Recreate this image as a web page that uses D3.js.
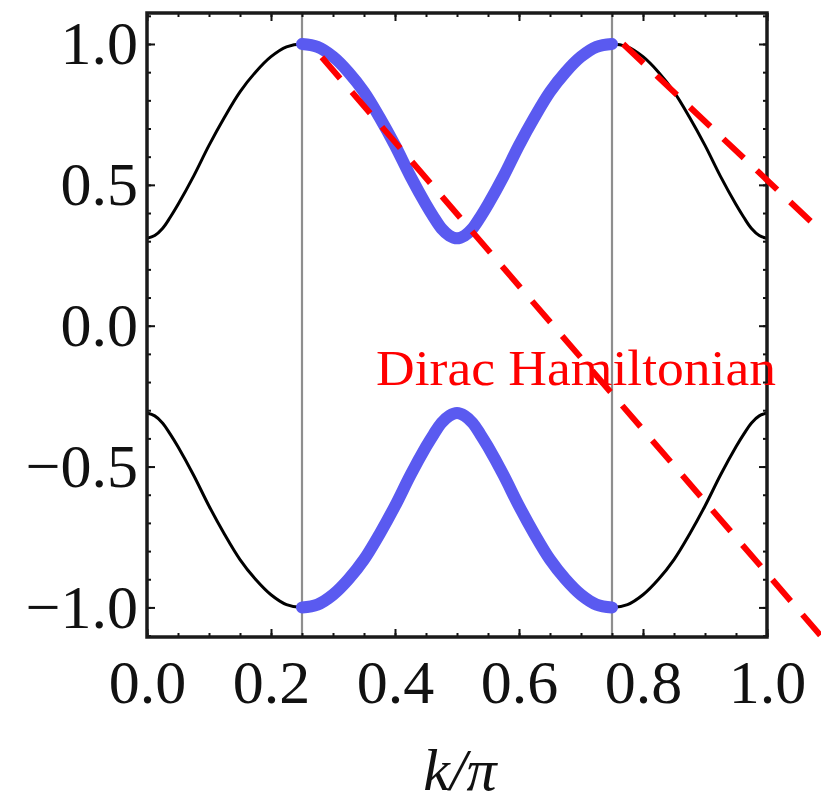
<!DOCTYPE html>
<html>
<head>
<meta charset="utf-8">
<script src="https://cdn.jsdelivr.net/npm/d3@7"></script>
<style>
  body { margin: 0; background: #fff; }
  svg { display: block; }
</style>
</head>
<body>
<svg id="chart" width="821" height="808"></svg>
<script>
// band values (k in units of pi)
const kVals = [0, 0.0125, 0.025, 0.0375, 0.05, 0.075, 0.1, 0.125, 0.15, 0.175, 0.2, 0.225,
  0.25,
  0.275, 0.3, 0.325, 0.35, 0.375, 0.4, 0.425, 0.45, 0.4625, 0.475, 0.4875,
  0.5,
  0.5125, 0.525, 0.5375, 0.55, 0.575, 0.6, 0.625, 0.65, 0.675, 0.7, 0.725,
  0.75,
  0.775, 0.8, 0.825, 0.85, 0.875, 0.9, 0.925, 0.95, 0.9625, 0.975, 0.9875,
  1.0];
const upperBand = [0.31, 0.32, 0.345, 0.385, 0.43, 0.53, 0.64, 0.74, 0.83, 0.90, 0.955, 0.99,
  1.0,
  0.99, 0.955, 0.90, 0.83, 0.74, 0.64, 0.53, 0.43, 0.385, 0.345, 0.32,
  0.31,
  0.32, 0.345, 0.385, 0.43, 0.53, 0.64, 0.74, 0.83, 0.90, 0.955, 0.99,
  1.0,
  0.99, 0.955, 0.90, 0.83, 0.74, 0.64, 0.53, 0.43, 0.385, 0.345, 0.32,
  0.31];
const lowerBand = [-0.31, -0.32, -0.345, -0.385, -0.43, -0.53, -0.64, -0.74, -0.83, -0.90, -0.955, -0.99,
  -1.0,
  -0.99, -0.955, -0.90, -0.83, -0.74, -0.64, -0.53, -0.43, -0.385, -0.345, -0.32,
  -0.31,
  -0.32, -0.345, -0.385, -0.43, -0.53, -0.64, -0.74, -0.83, -0.90, -0.955, -0.99,
  -1.0,
  -0.99, -0.955, -0.90, -0.83, -0.74, -0.64, -0.53, -0.43, -0.385, -0.345, -0.32,
  -0.31];

// highlighted window and boundary lines
const highlightRange = [0.25, 0.75];
const boundaryK = [0.25, 0.75];

// dashed Dirac lines: [k0, k1], [E0, E1]
const dirac1K = [0.282, 1.086], dirac1E = [0.953, -1.099];
const dirac2K = [0.768, 1.087], dirac2E = [1.0, 0.336];

const xTicks = [0, 0.2, 0.4, 0.6, 0.8, 1.0];
const yTicks = [-1.0, -0.5, 0.0, 0.5, 1.0];
const xMinor = d3.range(0, 1.0001, 0.05);
const yMinor = d3.range(-1.1, 1.1001, 0.1);

const annotation = "Dirac Hamiltonian";
const xTitle = "k/π";

const svg = d3.select("#chart");
const pLeft = 147, pRight = 767, pTop = 13, pBottom = 637;

const x = d3.scaleLinear().domain([0, 1]).range([pLeft, pRight]);
const y = d3.scaleLinear().domain([-1.105, 1.11]).range([pBottom, pTop]);

svg.append("rect").attr("width", 821).attr("height", 808).attr("fill", "#fff");

// gray boundary lines
svg.selectAll(".bound").data(boundaryK).enter().append("line")
  .attr("x1", d => x(d)).attr("x2", d => x(d))
  .attr("y1", pTop).attr("y2", pBottom)
  .attr("stroke", "#8e8e8e").attr("stroke-width", 2.2);

const line = d3.line()
  .x(d => x(d[0])).y(d => y(d[1]))
  .curve(d3.curveCatmullRom.alpha(0.5));

const bands = [upperBand, lowerBand].map(b => kVals.map((k, i) => [k, b[i]]));

svg.selectAll(".band").data(bands).enter().append("path")
  .attr("d", line)
  .attr("fill", "none").attr("stroke", "#000").attr("stroke-width", 3);

svg.selectAll(".hl").data(bands.map(b => b.filter(d => d[0] >= highlightRange[0] - 1e-9 && d[0] <= highlightRange[1] + 1e-9)))
  .enter().append("path")
  .attr("d", line)
  .attr("fill", "none").attr("stroke", "#5a5af0").attr("stroke-width", 12)
  .attr("stroke-linecap", "round");

// axes: ticks inside the frame
const g = svg.append("g").attr("class", "axes");
function styleAxis(sel) {
  sel.select(".domain").remove();
  sel.selectAll(".tick line").attr("stroke", "#111").attr("stroke-width", 2);
  sel.selectAll("text").attr("font-family", "Liberation Serif, serif").attr("font-size", 62).attr("fill", "#111");
}
g.append("g").attr("transform", `translate(0,${pBottom})`)
  .call(d3.axisBottom(x).tickValues(xTicks).tickSize(-8).tickPadding(22).tickFormat(d3.format(".1f")))
  .call(styleAxis);
g.append("g").attr("transform", `translate(0,${pBottom})`)
  .call(d3.axisBottom(x).tickValues(xMinor).tickSize(-4).tickFormat(""))
  .call(styleAxis);
g.append("g").attr("transform", `translate(0,${pTop})`)
  .call(d3.axisTop(x).tickValues(xTicks).tickSize(-8).tickFormat(""))
  .call(styleAxis);
g.append("g").attr("transform", `translate(0,${pTop})`)
  .call(d3.axisTop(x).tickValues(xMinor).tickSize(-4).tickFormat(""))
  .call(styleAxis);
g.append("g").attr("transform", `translate(${pLeft},0)`)
  .call(d3.axisLeft(y).tickValues(yTicks).tickSize(-8).tickPadding(9).tickFormat(d3.format(".1f")))
  .call(styleAxis);
g.append("g").attr("transform", `translate(${pLeft},0)`)
  .call(d3.axisLeft(y).tickValues(yMinor).tickSize(-4).tickFormat(""))
  .call(styleAxis);
g.append("g").attr("transform", `translate(${pRight},0)`)
  .call(d3.axisRight(y).tickValues(yTicks).tickSize(-8).tickFormat(""))
  .call(styleAxis);
g.append("g").attr("transform", `translate(${pRight},0)`)
  .call(d3.axisRight(y).tickValues(yMinor).tickSize(-4).tickFormat(""))
  .call(styleAxis);

svg.append("rect")
  .attr("x", pLeft).attr("y", pTop).attr("width", pRight - pLeft).attr("height", pBottom - pTop)
  .attr("fill", "none").attr("stroke", "#1a1a1a").attr("stroke-width", 3.5);

// x title
svg.append("text")
  .attr("x", (pLeft + pRight) / 2 + 3).attr("y", 790)
  .attr("text-anchor", "middle")
  .attr("font-family", "Liberation Serif, serif").attr("font-style", "italic").attr("font-size", 60)
  .attr("fill", "#111")
  .text(xTitle);

// annotation
svg.append("text")
  .attr("x", 376).attr("y", 385)
  .attr("font-family", "Liberation Serif, serif").attr("font-size", 50)
  .attr("textLength", 400).attr("lengthAdjust", "spacingAndGlyphs")
  .attr("fill", "#f00")
  .text(annotation);

// dashed Dirac lines, not clipped to the frame
const diracLines = [
  [[dirac1K[0], dirac1E[0]], [dirac1K[1], dirac1E[1]]],
  [[dirac2K[0], dirac2E[0]], [dirac2K[1], dirac2E[1]]]
];
svg.selectAll(".dirac").data(diracLines).enter().append("path")
  .attr("d", d3.line().x(d => x(d[0])).y(d => y(d[1])))
  .attr("fill", "none").attr("stroke", "#f00").attr("stroke-width", 6)
  .attr("stroke-dasharray", "28,18");
</script>
</body>
</html>
